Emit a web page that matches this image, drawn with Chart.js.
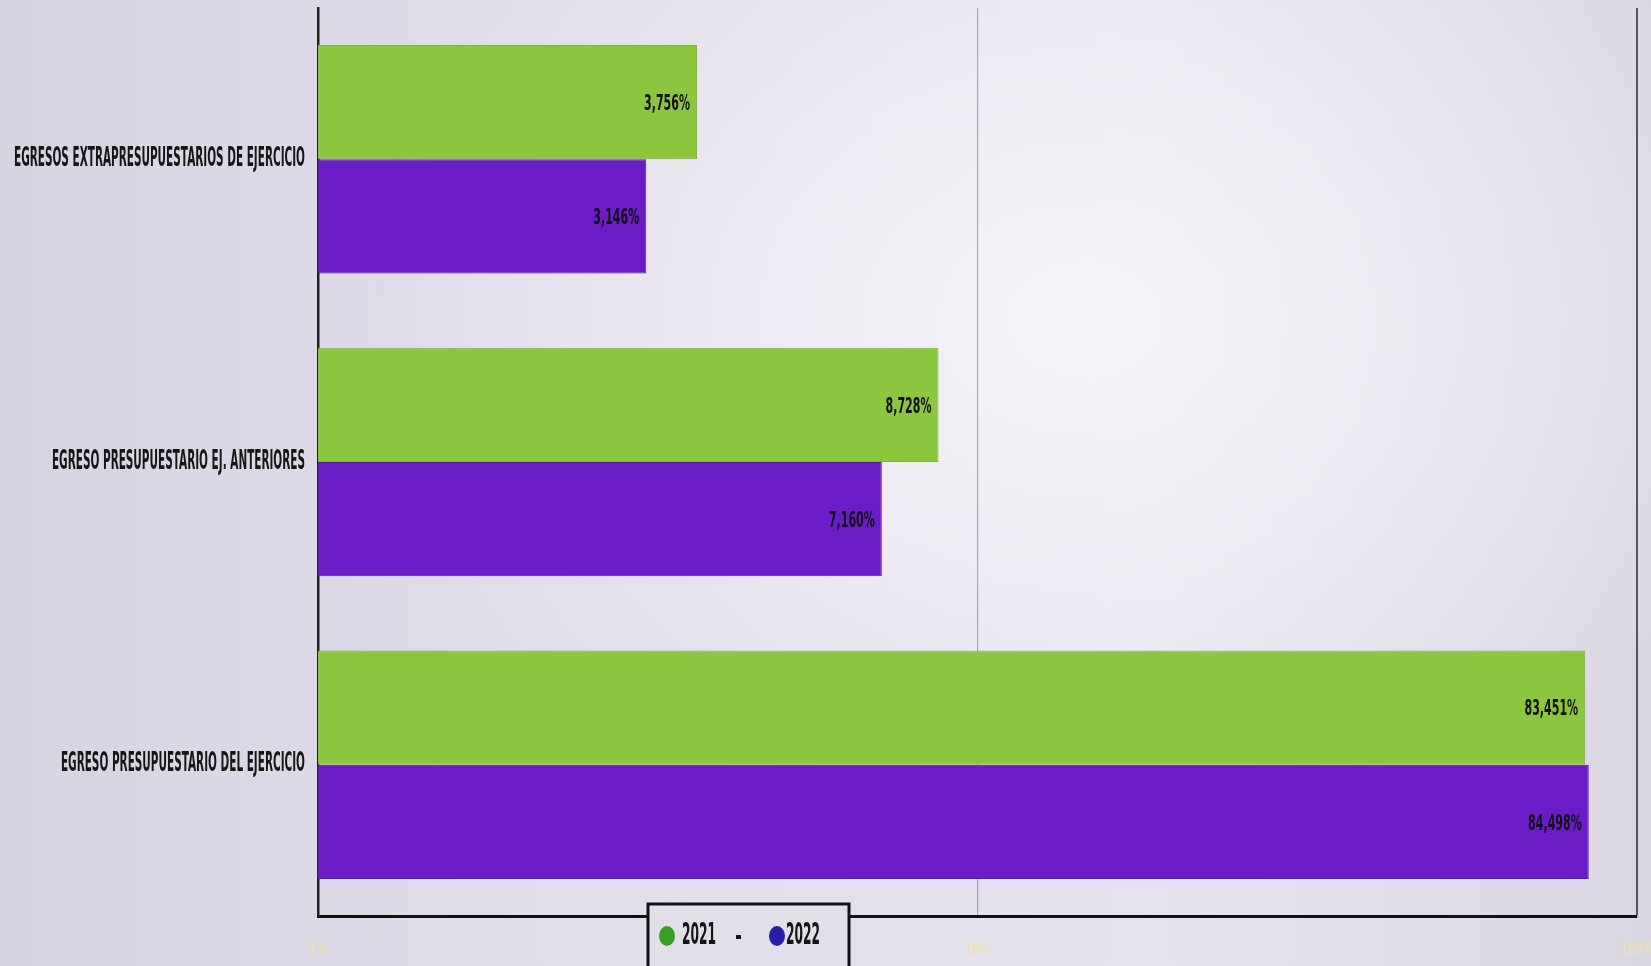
<!DOCTYPE html>
<html>
<head>
<meta charset="utf-8">
<script src="https://cdn.jsdelivr.net/npm/chart.js@4/dist/chart.umd.min.js"></script>
<style>
  html, body { margin: 0; padding: 0; }
  body {
    width: 1651px;
    height: 966px;
    overflow: hidden;
    background:
      radial-gradient(ellipse 720px 540px at 1080px 320px, rgba(247,245,251,0.95), rgba(247,245,251,0) 100%),
      linear-gradient(90deg, #d7d3e1 0%, #e0dce8 30%, #e6e2ed 70%, #dbd7e3 100%);
  }
  canvas { display: block; }
</style>
</head>
<body>
<canvas id="chart" width="1651" height="966"></canvas>
<script>
const categories = [
  'EGRESOS EXTRAPRESUPUESTARIOS DE EJERCICIO',
  'EGRESO PRESUPUESTARIO EJ. ANTERIORES',
  'EGRESO PRESUPUESTARIO DEL EJERCICIO',
];
const seriesNames = ['2021', '2022'];
const values2021 = [3.756, 8.728, 83.451];
const values2022 = [3.146, 7.160, 84.498];
const tickValues = [1, 10, 100];
const tickLabels = ['1%', '10%', '100%'];

const barColors = ['#8cc63e', '#6a1dc6'];
const dotColors = ['#3a9e26', '#2a1ea6'];
const FONT = '"DejaVu Sans", sans-serif';

function fmt(v) {
  return v.toFixed(3).replace('.', ',') + '%';
}

// draws squeezed text (fakes a condensed bold face)
function narrowText(ctx, text, x, y, sx, align) {
  ctx.save();
  ctx.translate(x, y);
  ctx.scale(sx, 1);
  ctx.textAlign = align;
  ctx.fillText(text, 0, 0);
  ctx.restore();
}

const customText = {
  id: 'customText',
  afterDatasetsDraw(chart) {
    const ctx = chart.ctx;
    const yScale = chart.scales.y;
    const xScale = chart.scales.x;

    // category labels
    ctx.save();
    ctx.font = 'bold 26px ' + FONT;
    ctx.fillStyle = '#161616';
    ctx.textBaseline = 'middle';
    const sxCat = 291 / ctx.measureText(categories[0]).width;
    categories.forEach((c, i) => {
      narrowText(ctx, c, yScale.right - 13, yScale.getPixelForTick(i), sxCat, 'right');
    });
    ctx.restore();

    // value labels inside bar ends
    ctx.save();
    ctx.font = 'bold 22px ' + FONT;
    ctx.fillStyle = '#131018';
    ctx.textBaseline = 'middle';
    const sxVal = 46 / ctx.measureText('3,756%').width;
    chart.data.datasets.forEach((ds, i) => {
      chart.getDatasetMeta(i).data.forEach((bar, j) => {
        narrowText(ctx, fmt(ds.data[j]), bar.x - 7, bar.y + 2, sxVal, 'right');
      });
    });
    ctx.restore();

    // faint x tick labels
    ctx.save();
    ctx.font = 'bold 15px ' + FONT;
    ctx.fillStyle = '#ece0b8';
    ctx.textBaseline = 'middle';
    tickValues.forEach((v, i) => {
      narrowText(ctx, tickLabels[i], xScale.getPixelForValue(v), 950, 0.7, 'center');
    });
    ctx.restore();
  },
  afterDraw(chart) {
    const ctx = chart.ctx;
    // legend box
    ctx.save();
    ctx.fillStyle = '#e3dfe9';
    ctx.fillRect(648, 904, 201, 70);
    ctx.strokeStyle = '#121212';
    ctx.lineWidth = 3;
    ctx.strokeRect(648, 904, 201, 70);
    ctx.font = 'bold 31px ' + FONT;
    ctx.fillStyle = '#151515';
    ctx.textBaseline = 'middle';
    const sxLeg = 34 / ctx.measureText('2021').width;
    const items = [
      { dot: 667, text: 682 },
      { dot: 777, text: 786 },
    ];
    items.forEach((it, i) => {
      ctx.beginPath();
      ctx.ellipse(it.dot, 936, 8, 10, 0, 0, Math.PI * 2);
      ctx.fillStyle = dotColors[i];
      ctx.fill();
      ctx.fillStyle = '#151515';
      narrowText(ctx, seriesNames[i], it.text, 936, sxLeg, 'left');
    });
    ctx.fillRect(736, 935, 5, 4);
    ctx.restore();
  },
};

new Chart(document.getElementById('chart'), {
  type: 'bar',
  data: {
    labels: categories,
    datasets: [
      { label: seriesNames[0], data: values2021, backgroundColor: barColors[0], borderColor: '#7cb536', borderWidth: 1 },
      { label: seriesNames[1], data: values2022, backgroundColor: barColors[1], borderColor: '#5713ad', borderWidth: 1 },
    ],
  },
  options: {
    indexAxis: 'y',
    responsive: false,
    animation: false,
    layout: { padding: { top: 8, right: 14, left: 0, bottom: 0 } },
    categoryPercentage: 0.755,
    barPercentage: 1,
    plugins: {
      legend: { display: false },
      tooltip: { enabled: false },
    },
    scales: {
      x: {
        type: 'logarithmic',
        min: 1,
        max: 100,
        afterBuildTicks: (scale) => {
          scale.ticks = tickValues.map((v) => ({ value: v }));
        },
        afterFit: (scale) => { scale.height = 50; },
        ticks: { display: false },
        grid: {
          drawTicks: false,
          color: (c) => (c.tick && c.tick.value === 10 ? '#aaa6b4' : c.tick && c.tick.value === 100 ? '#55535c' : 'rgba(0,0,0,0)'),
          lineWidth: (c) => (c.tick && c.tick.value === 100 ? 2 : 1.2),
        },
        border: { color: '#111', width: 3 },
      },
      y: {
        afterFit: (scale) => { scale.width = 318; },
        ticks: { display: false },
        grid: { display: false, drawTicks: false },
        border: { color: '#222', width: 2.5 },
      },
    },
  },
  plugins: [customText],
});
</script>
</body>
</html>
